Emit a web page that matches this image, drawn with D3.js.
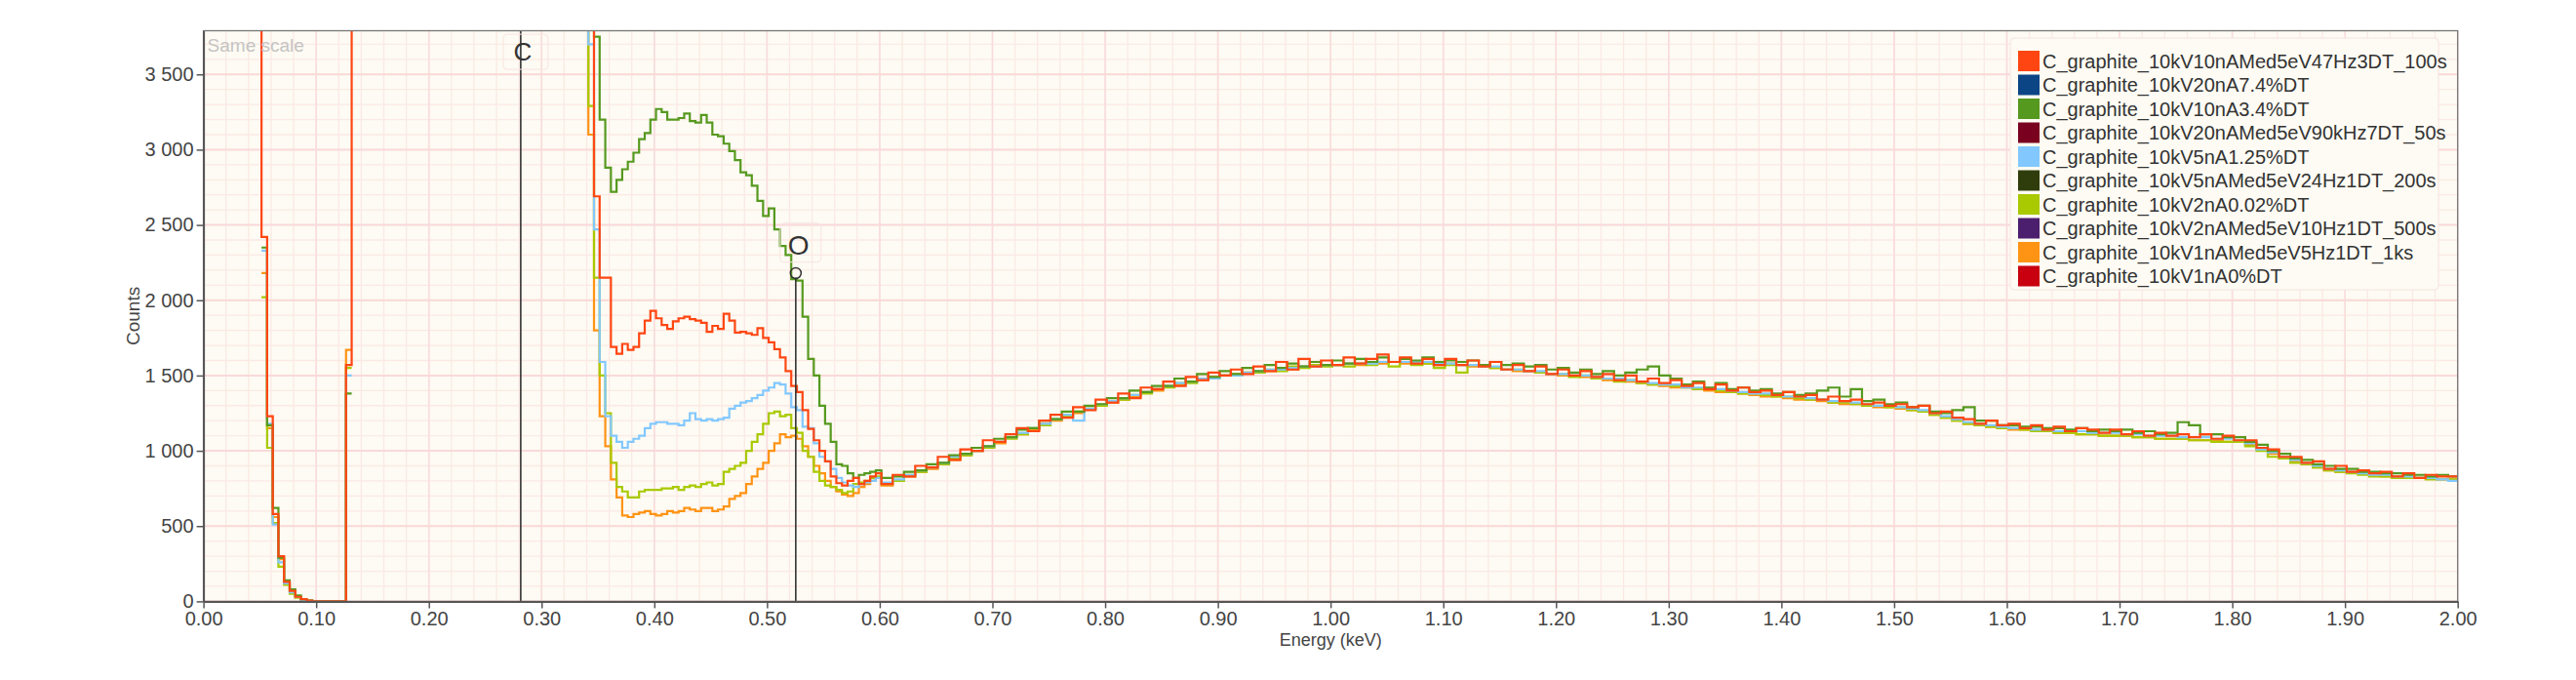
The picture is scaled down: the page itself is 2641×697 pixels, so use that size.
<!DOCTYPE html>
<html><head><meta charset="utf-8">
<script src="https://cdn.jsdelivr.net/npm/d3@7"></script>
<style>body{margin:0;background:#fff}svg{font-family:"Liberation Sans",Arial,sans-serif}</style>
</head><body><svg id="c" width="2641" height="697"></svg>
<script>
const seriesNames=["C_graphite_10kV10nAMed5eV47Hz3DT_100s","C_graphite_10kV20nA7.4%DT","C_graphite_10kV10nA3.4%DT","C_graphite_10kV20nAMed5eV90kHz7DT_50s","C_graphite_10kV5nA1.25%DT","C_graphite_10kV5nAMed5eV24Hz1DT_200s","C_graphite_10kV2nA0.02%DT","C_graphite_10kV2nAMed5eV10Hz1DT_500s","C_graphite_10kV1nAMed5eV5Hz1DT_1ks","C_graphite_10kV1nA0%DT"];
const seriesColors=["#FF4612","#0B4585","#56991F","#7A0020","#82C8FF","#2F3D0C","#A9C900","#4B1E6E","#FF9314","#C8000F"];
const xTicks=[0,0.1,0.2,0.3,0.4,0.5,0.6,0.7,0.8,0.9,1.0,1.1,1.2,1.3,1.4,1.5,1.6,1.7,1.8,1.9,2.0];
const yTicks=[0,500,1000,1500,2000,2500,3000,3500];
const OFF=6000;
const redA=[2420,1230,580,300,130,70,30,15,5,0,0,0,0,0,0,1570];
const greenA=[2350,1170,620,290,140,80,40,15,5,0,0,0,0,0,0,1380];
const blueA=[2330,1180,510,260,120,60,30,10,3,0,0,0,0,0,0,1500];
const yellowA=[2020,1020,520,230,110,50,25,10,3,0,0,0,0,0,0,1550];
const orangeA=[2180,1150,560,280,120,60,30,12,4,0,0,0,0,0,0,1670];
const redB=[5000,2690,2150,2150,1690,1645,1710,1670,1690,1780,1865,1930,1880,1835,1810,1860,1880,1890,1875,1865,1850,1790,1830,1810,1910,1865,1785,1790,1780,1770,1815,1750,1720,1675,1620,1530,1430,1390,1270,1145,1070,1000,930,830,785,770,800,820,780,800,830,850];
const greenB=[5000,3750,3200,2880,2720,2800,2870,2920,2980,3070,3110,3200,3270,3250,3200,3200,3210,3240,3190,3180,3230,3180,3100,3090,3040,2990,2930,2850,2830,2760,2660,2560,2610,2470,2360,2300,2140,2130,1890,1610,1500,1300,1180,1060,910,900,850,820,840,850,860,870];
const blueB=[3700,2470,1590,1230,1100,1060,1020,1060,1080,1100,1150,1180,1190,1190,1180,1180,1170,1200,1250,1210,1200,1210,1200,1210,1220,1280,1300,1320,1330,1350,1370,1400,1420,1450,1440,1380,1290,1270,1160,1150,1050,960,930,880,820,790,770,760,780,790,800,820];
const yellowB=[3290,2150,1500,1250,920,760,730,690,690,730,740,740,740,750,750,760,740,760,770,760,780,790,770,780,860,880,900,920,1000,1060,1110,1180,1250,1260,1230,1240,1150,1120,1000,960,860,800,770,760,740,720,730,780,790,800,820,830];
const orangeB=[3100,1800,1230,1030,810,690,570,560,580,590,600,580,570,580,600,590,600,620,610,600,620,620,600,610,630,680,700,720,780,830,880,920,1000,1050,1110,1090,1100,1080,1030,960,900,850,800,760,730,710,700,720,760,780,800,820];
const redC=[780,840,830,900,890,960,940,1010,1000,1070,1060,1110,1150,1130,1200,1240,1220,1290,1270,1340,1320,1380,1350,1420,1410,1460,1430,1490,1470,1520,1500,1540,1510,1560,1530,1590,1540,1610,1560,1600,1570,1620,1580,1610,1640,1590,1620,1580,1610,1570,1610,1570,1600,1560,1590,1540,1570,1530,1560,1510,1540,1500,1530,1490,1510,1470,1500,1460,1480,1450,1470,1430,1450,1410,1440,1400,1420,1390,1400,1370,1390,1360,1370,1340,1360,1330,1340,1310,1320,1300,1310,1290,1300,1250,1260,1220,1210,1180,1200,1170,1180,1150,1170,1140,1160,1130,1150,1140,1120,1140,1110,1130,1100,1120,1100,1110,1090,1110,1080,1100,1070,1070,1020,1010,960,960,920,930,880,900,860,870,850,860,830,850,820,840,830,830];
const greenC=[820,830,860,870,910,920,970,980,1020,1030,1080,1090,1140,1150,1200,1210,1260,1260,1300,1310,1350,1350,1400,1390,1430,1430,1480,1460,1510,1490,1530,1510,1550,1530,1570,1550,1580,1560,1590,1570,1600,1580,1610,1590,1620,1590,1610,1600,1620,1590,1600,1590,1600,1570,1590,1570,1580,1560,1570,1540,1550,1520,1540,1510,1530,1500,1520,1540,1560,1500,1480,1440,1460,1420,1450,1410,1420,1400,1410,1380,1390,1370,1380,1400,1420,1360,1410,1330,1340,1310,1320,1290,1300,1260,1250,1270,1290,1200,1200,1170,1170,1160,1160,1150,1150,1140,1150,1130,1140,1130,1140,1120,1130,1110,1120,1190,1170,1110,1110,1090,1090,1060,1040,1000,980,950,940,910,900,880,880,860,860,850,850,840,840,830,840,830];
const blueC=[790,810,840,870,890,920,960,980,1000,1030,1060,1090,1120,1150,1180,1210,1240,1200,1280,1310,1330,1350,1370,1390,1410,1430,1450,1460,1480,1480,1500,1500,1520,1530,1540,1540,1550,1560,1560,1570,1570,1580,1580,1580,1590,1590,1590,1590,1590,1580,1580,1570,1570,1560,1560,1540,1540,1530,1530,1510,1510,1500,1500,1490,1480,1480,1470,1460,1450,1440,1440,1420,1420,1410,1410,1400,1390,1380,1380,1370,1360,1360,1350,1340,1330,1330,1320,1310,1300,1300,1290,1280,1270,1250,1230,1210,1190,1180,1170,1160,1150,1150,1140,1140,1130,1130,1130,1120,1120,1120,1110,1110,1100,1100,1100,1090,1090,1090,1080,1080,1070,1050,1010,990,960,940,920,900,880,870,860,850,840,840,830,830,820,820,810,800];
const yellowC=[780,800,840,860,890,910,950,970,1000,1020,1060,1080,1110,1150,1170,1210,1230,1260,1280,1300,1330,1340,1370,1380,1410,1420,1450,1450,1480,1480,1500,1500,1520,1520,1540,1530,1560,1550,1570,1560,1570,1560,1580,1570,1590,1560,1590,1570,1580,1550,1570,1520,1570,1560,1550,1540,1540,1530,1520,1510,1510,1490,1500,1480,1480,1460,1470,1450,1440,1440,1430,1420,1410,1410,1400,1390,1380,1380,1370,1360,1360,1350,1340,1340,1320,1320,1310,1300,1300,1290,1290,1270,1260,1240,1220,1200,1180,1170,1160,1150,1150,1140,1130,1130,1120,1120,1110,1110,1100,1100,1100,1090,1090,1080,1080,1080,1070,1070,1060,1060,1060,1030,1000,960,950,920,910,890,870,860,850,840,830,830,820,820,820,810,810,810];
const orangeC=[770,800,830,860,880,920,940,970,1000,1020,1050,1090,1110,1140,1180,1200,1240,1250,1280,1300,1320,1340,1360,1390,1400,1430,1440,1460,1470,1490,1500,1510,1520,1520,1530,1550,1540,1560,1560,1570,1570,1580,1570,1590,1580,1590,1580,1590,1580,1570,1580,1570,1560,1560,1550,1540,1530,1530,1520,1510,1500,1500,1490,1480,1470,1470,1460,1450,1440,1430,1420,1420,1410,1400,1390,1390,1380,1370,1360,1360,1350,1340,1340,1330,1320,1310,1310,1300,1290,1290,1280,1270,1260,1240,1220,1200,1180,1170,1160,1150,1140,1140,1130,1130,1120,1120,1110,1110,1100,1100,1100,1090,1090,1080,1080,1080,1070,1070,1070,1060,1060,1040,1010,980,950,930,910,890,870,860,860,850,840,830,830,820,820,820,810,810];

const svg=d3.select("#c");
const L=208.6,R=2519.7,T=31.5,B=616.4;
const x=d3.scaleLinear().domain([0,2]).range([L,R]);
const y=d3.scaleLinear().domain([0,3790]).range([B,T]);

svg.append("rect").attr("x",L).attr("y",T).attr("width",R-L).attr("height",B-T).attr("fill","#fdfbf3");
const g=svg.append("g");
for(let v=0;v<=2.0001;v+=0.02){const X=x(v);g.append("line").attr("x1",X).attr("x2",X).attr("y1",T).attr("y2",B).attr("stroke","#fbe9e4").attr("stroke-width",1.3);}
for(let v=0;v<=3790;v+=100){const Y=y(v);g.append("line").attr("x1",L).attr("x2",R).attr("y1",Y).attr("y2",Y).attr("stroke","#fbe9e4").attr("stroke-width",1.3);}
xTicks.forEach(v=>g.append("line").attr("x1",x(v)).attr("x2",x(v)).attr("y1",T).attr("y2",B).attr("stroke","#f9dcdc").attr("stroke-width",1.6));
yTicks.forEach(v=>g.append("line").attr("x1",L).attr("x2",R).attr("y1",y(v)).attr("y2",y(v)).attr("stroke","#f9d9d9").attr("stroke-width",2));

svg.append("defs").append("clipPath").attr("id","clip").append("rect").attr("x",L).attr("y",T).attr("width",R-L).attr("height",B-T);

function pts(start,w,vals){return vals.map((v,i)=>[start+i*w,v]);}
const line=d3.line().x(d=>x(d[0])).y(d=>y(d[1])).curve(d3.curveStepAfter);
function segs(A,Bv,C,red){
  const out=[];
  let a=pts(0.0515,0.005,A);
  if(red){a=[[0.0465,OFF]].concat(a);
    const mid=[];for(let e=0.1315;e<0.3414;e+=0.005)mid.push([e,OFF]);
    out.push(a.concat(mid,pts(0.3415,0.005,Bv),pts(0.6015,0.01,C),[[2.0015,C[C.length-1]]]));
  }else{
    out.push(a.concat([[0.1315,A[A.length-1]]]));
    out.push([[0.3365,OFF]].concat(pts(0.3415,0.005,Bv),pts(0.6015,0.01,C),[[2.0015,C[C.length-1]]]));
  }
  return out;
}
const plot=svg.append("g").attr("clip-path","url(#clip)");
const drawSeries=[[orangeA,orangeB,orangeC,seriesColors[8]],[yellowA,yellowB,yellowC,seriesColors[6]],[blueA,blueB,blueC,seriesColors[4]],[greenA,greenB,greenC,seriesColors[2]],[redA,redB,redC,seriesColors[0],true]];
drawSeries.forEach(s=>{segs(s[0],s[1],s[2],s[4]).forEach(p=>plot.append("path").attr("d",line(p)).attr("fill","none").attr("stroke",s[3]).attr("stroke-width",2.2));});

const mk=svg.append("g");
mk.append("line").attr("x1",x(0.2815)).attr("x2",x(0.2815)).attr("y1",B).attr("y2",T).attr("stroke","#333").attr("stroke-width",1.6);
mk.append("rect").attr("x",x(0.2815)-18).attr("y",y(3650)-18).attr("width",46).attr("height",36).attr("rx",4).attr("fill","none").attr("stroke","#f8e4e0");
mk.append("text").attr("x",x(0.2815)+2).attr("y",y(3650)+9).attr("text-anchor","middle").attr("font-size",26).attr("fill","#333").text("C");
mk.append("line").attr("x1",x(0.5255)).attr("x2",x(0.5255)).attr("y1",B).attr("y2",y(2150)).attr("stroke","#333").attr("stroke-width",1.6);
mk.append("circle").attr("cx",x(0.5255)).attr("cy",y(2180)).attr("r",5.5).attr("fill","none").attr("stroke","#333").attr("stroke-width",1.5);
mk.append("rect").attr("x",x(0.5255)-16).attr("y",y(2370)-22).attr("width",42).attr("height",40).attr("rx",4).attr("fill","none").attr("stroke","#f8e4e0");
mk.append("text").attr("x",x(0.528)).attr("y",y(2370)+10).attr("text-anchor","middle").attr("font-size",28).attr("fill","#333").text("O");

svg.append("text").attr("x",L+4).attr("y",T+21).attr("font-size",19).attr("fill","#c4c4c4").text("Same scale");

svg.append("rect").attr("x",L).attr("y",T).attr("width",R-L).attr("height",B-T).attr("fill","none").attr("stroke","#777").attr("stroke-width",1.3);
const xa=svg.append("g").attr("transform",`translate(0,${B})`).call(d3.axisBottom(x).tickValues(xTicks).tickFormat(d3.format(".2f")).tickSize(7).tickSizeOuter(0));
const ya=svg.append("g").attr("transform",`translate(${L},0)`).call(d3.axisLeft(y).tickValues(yTicks).tickFormat(d=>d>=1000?d3.format(",")(d).replace(","," "):d).tickSize(7).tickSizeOuter(0));
[xa,ya].forEach(a=>{a.selectAll("text").attr("font-size",20).attr("fill","#444").attr("font-family","Liberation Sans, Arial");a.selectAll("line").attr("stroke","#555").attr("stroke-width",1.5);a.select(".domain").attr("stroke","#555").attr("stroke-width",2);});
svg.append("text").attr("x",(L+R)/2).attr("y",662).attr("text-anchor","middle").attr("font-size",18).attr("fill","#444").text("Energy (keV)");
svg.append("text").attr("transform",`translate(143,${(T+B)/2}) rotate(-90)`).attr("text-anchor","middle").attr("font-size",19).attr("fill","#444").text("Counts");

const lg=svg.append("g");
lg.append("rect").attr("x",2061).attr("y",39).attr("width",439).attr("height",258).attr("rx",4).attr("fill","#fdfbf3").attr("stroke","#f7e2e0");
seriesNames.forEach((n,i)=>{const cy=62.5+i*24.5;
  lg.append("rect").attr("x",2069).attr("y",cy-10.5).attr("width",22).attr("height",21).attr("fill",seriesColors[i]);
  lg.append("text").attr("x",2094).attr("y",cy+7).attr("font-size",20).attr("fill","#333").text(n);});
</script></body></html>
